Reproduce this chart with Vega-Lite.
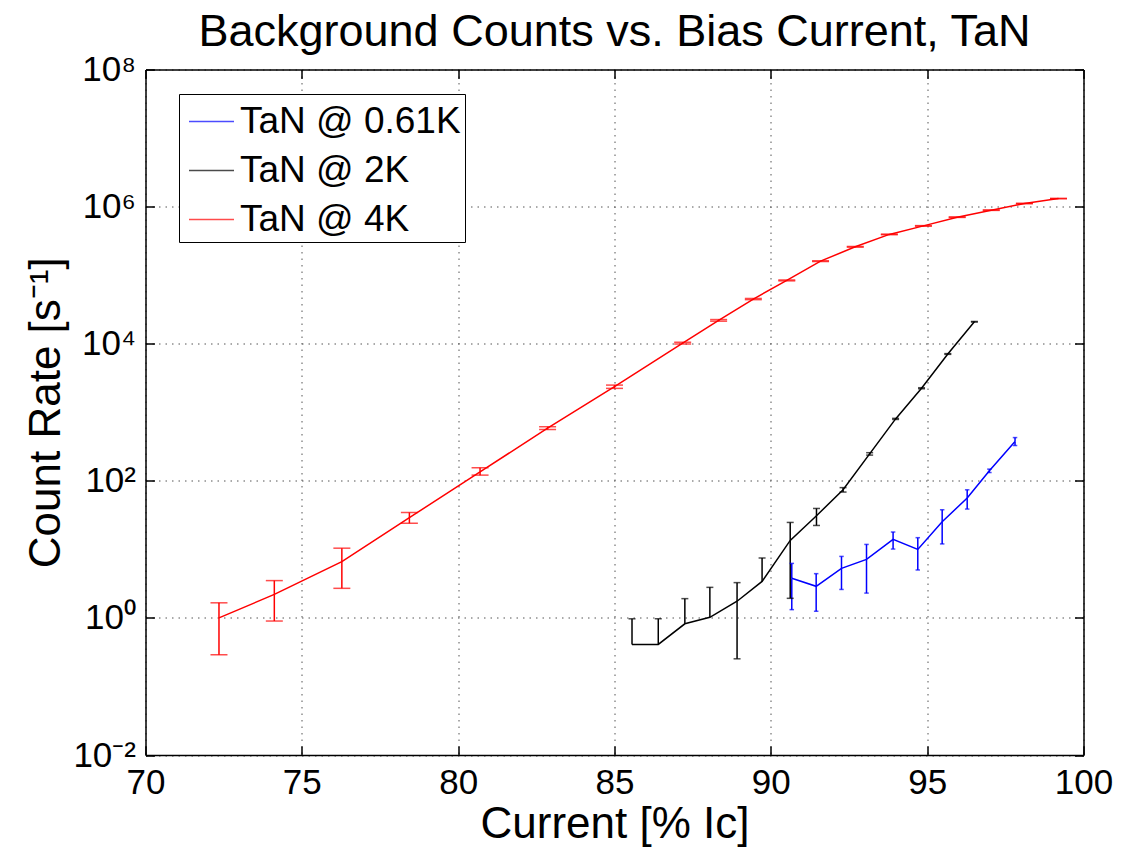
{
  "$schema": "https://vega.github.io/schema/vega-lite/v6.json",
  "autosize": {"type": "none"},
  "width": 938,
  "height": 685.5,
  "padding": {"left": 145.5, "top": 69.5, "right": 39.5, "bottom": 93},
  "background": "white",
  "config": {"view": {"stroke": null}},
  "title": {
    "text": "Background Counts vs. Bias Current, TaN",
    "font": "Liberation Sans",
    "fontSize": 45,
    "fontWeight": "normal",
    "color": "black",
    "anchor": "middle",
    "offset": -2
  },
  "data": {
    "values": [
      {"s": "TaN @ 4K", "x": 72.35, "y": 1.0, "lo": 0.29, "hi": 1.66},
      {"s": "TaN @ 4K", "x": 74.12, "y": 2.2, "lo": 0.9, "hi": 3.5},
      {"s": "TaN @ 4K", "x": 76.28, "y": 6.6, "lo": 2.7, "hi": 10.4},
      {"s": "TaN @ 4K", "x": 78.44, "y": 29, "lo": 24, "hi": 34.5},
      {"s": "TaN @ 4K", "x": 80.7, "y": 135, "lo": 121, "hi": 155},
      {"s": "TaN @ 4K", "x": 82.86, "y": 586, "lo": 560, "hi": 615},
      {"s": "TaN @ 4K", "x": 85.0, "y": 2360, "lo": 2230, "hi": 2490},
      {"s": "TaN @ 4K", "x": 87.18, "y": 10200, "lo": 9900, "hi": 10500},
      {"s": "TaN @ 4K", "x": 88.33, "y": 21900, "lo": 21300, "hi": 22500},
      {"s": "TaN @ 4K", "x": 89.44, "y": 44800, "lo": 43900, "hi": 45700},
      {"s": "TaN @ 4K", "x": 90.51, "y": 83800, "lo": 82500, "hi": 85100},
      {"s": "TaN @ 4K", "x": 91.59, "y": 160000, "lo": 158000, "hi": 162000},
      {"s": "TaN @ 4K", "x": 92.7, "y": 259000, "lo": 256000, "hi": 262000},
      {"s": "TaN @ 4K", "x": 93.79, "y": 393000, "lo": 389000, "hi": 397000},
      {"s": "TaN @ 4K", "x": 94.88, "y": 523000, "lo": 518000, "hi": 528000},
      {"s": "TaN @ 4K", "x": 95.96, "y": 701000, "lo": 695000, "hi": 707000},
      {"s": "TaN @ 4K", "x": 97.05, "y": 887000, "lo": 880000, "hi": 894000},
      {"s": "TaN @ 4K", "x": 98.11, "y": 1110000, "lo": 1100000, "hi": 1120000},
      {"s": "TaN @ 4K", "x": 99.2, "y": 1310000, "lo": 1300000, "hi": 1320000},

      {"s": "TaN @ 2K", "x": 85.56, "y": 0.41, "lo": null, "hi": 0.97},
      {"s": "TaN @ 2K", "x": 86.4, "y": 0.41, "lo": null, "hi": 0.97},
      {"s": "TaN @ 2K", "x": 87.25, "y": 0.82, "lo": null, "hi": 1.91},
      {"s": "TaN @ 2K", "x": 88.05, "y": 1.02, "lo": null, "hi": 2.79},
      {"s": "TaN @ 2K", "x": 88.92, "y": 1.75, "lo": 0.253, "hi": 3.27},
      {"s": "TaN @ 2K", "x": 89.72, "y": 3.41, "lo": null, "hi": 7.48},
      {"s": "TaN @ 2K", "x": 90.62, "y": 13.5, "lo": 1.93, "hi": 24.7},
      {"s": "TaN @ 2K", "x": 91.46, "y": 30.9, "lo": 22.3, "hi": 39.5},
      {"s": "TaN @ 2K", "x": 92.31, "y": 74, "lo": 68.5, "hi": 79.5},
      {"s": "TaN @ 2K", "x": 93.16, "y": 247, "lo": 237, "hi": 257},
      {"s": "TaN @ 2K", "x": 93.99, "y": 800, "lo": 785, "hi": 815},
      {"s": "TaN @ 2K", "x": 94.82, "y": 2240, "lo": 2200, "hi": 2280},
      {"s": "TaN @ 2K", "x": 95.66, "y": 7080, "lo": 6990, "hi": 7170},
      {"s": "TaN @ 2K", "x": 96.51, "y": 20900, "lo": 20700, "hi": 21100},

      {"s": "TaN @ 0.61K", "x": 90.67, "y": 3.78, "lo": 1.32, "hi": 6.24},
      {"s": "TaN @ 0.61K", "x": 91.45, "y": 2.89, "lo": 1.25, "hi": 4.42},
      {"s": "TaN @ 0.61K", "x": 92.26, "y": 5.28, "lo": 2.6, "hi": 7.89},
      {"s": "TaN @ 0.61K", "x": 93.06, "y": 7.14, "lo": 2.3, "hi": 11.8},
      {"s": "TaN @ 0.61K", "x": 93.91, "y": 13.96, "lo": 10.1, "hi": 17.9},
      {"s": "TaN @ 0.61K", "x": 94.7, "y": 9.98, "lo": 5.0, "hi": 14.8},
      {"s": "TaN @ 0.61K", "x": 95.48, "y": 25.3, "lo": 12, "hi": 37.8},
      {"s": "TaN @ 0.61K", "x": 96.28, "y": 56.0, "lo": 38.7, "hi": 73.9},
      {"s": "TaN @ 0.61K", "x": 96.99, "y": 140, "lo": 132, "hi": 148},
      {"s": "TaN @ 0.61K", "x": 97.81, "y": 374, "lo": 327, "hi": 427}
    ]
  },
  "encoding": {
    "color": {
      "field": "s",
      "type": "nominal",
      "scale": {
        "domain": ["TaN @ 0.61K", "TaN @ 2K", "TaN @ 4K"],
        "range": ["#0000ff", "#000000", "#ff0000"]
      },
      "legend": {
        "title": null,
        "orient": "none",
        "legendX": 33.5,
        "legendY": 24.5,
        "symbolType": "stroke",
        "symbolSize": 2025,
        "symbolStrokeWidth": 1.5,
        "symbolOffset": 5,
        "labelFont": "Liberation Sans",
        "labelFontSize": 37,
        "labelColor": "black",
        "labelOffset": 5,
        "labelLimit": 500,
        "rowPadding": 7,
        "padding": 4,
        "fillColor": "white",
        "strokeColor": "black"
      }
    }
  },
  "layer": [
    {
      "mark": {"type": "line", "strokeWidth": 1.5},
      "encoding": {
        "x": {
          "field": "x",
          "type": "quantitative",
          "scale": {"domain": [70, 100], "nice": false, "zero": false},
          "axis": {
            "orient": "bottom",
            "values": [70, 75, 80, 85, 90, 95, 100],
            "ticks": false,
            "grid": true,
            "gridColor": "#555555",
            "gridDash": [1.5, 5],
            "gridWidth": 1,
            "domain": true,
            "domainColor": "black",
            "domainWidth": 1.5,
            "labelFont": "Liberation Sans",
            "labelFontSize": 35,
            "labelColor": "black",
            "labelPadding": 10,
            "labelFlush": false,
            "labelOverlap": false,
            "title": "Current [% Ic]",
            "titleFont": "Liberation Sans",
            "titleFontSize": 44,
            "titleFontWeight": "normal",
            "titleColor": "black",
            "titlePadding": 2
          }
        },
        "y": {
          "field": "y",
          "type": "quantitative",
          "scale": {"type": "log", "domain": [0.01, 100000000], "nice": false},
          "axis": {
            "orient": "left",
            "values": [0.01, 1, 100, 10000, 1000000, 100000000],
            "labelExpr": "['10⁻²','10⁰','10²','10⁴','10⁶','10⁸'][round(log(datum.value)/LN10/2)+1]",
            "ticks": false,
            "grid": true,
            "gridColor": "#555555",
            "gridDash": [1.5, 5],
            "gridWidth": 1,
            "domain": true,
            "domainColor": "black",
            "domainWidth": 1.5,
            "labelFont": "Liberation Sans",
            "labelFontSize": 35,
            "labelColor": "black",
            "labelPadding": 10,
            "labelFlush": false,
            "labelOverlap": false,
            "title": "Count Rate [s⁻¹]",
            "titleFont": "Liberation Sans",
            "titleFontSize": 44,
            "titleFontWeight": "normal",
            "titleColor": "black",
            "titlePadding": 4
          }
        }
      }
    },
    {
      "mark": {"type": "rule", "strokeWidth": 1.5},
      "encoding": {
        "x": {
          "field": "x",
          "type": "quantitative",
          "axis": {
            "orient": "bottom",
            "values": [70, 75, 80, 85, 90, 95, 100],
            "labels": false,
            "grid": false,
            "domain": false,
            "ticks": true,
            "tickSize": -9,
            "tickColor": "black",
            "tickWidth": 1.5,
            "title": null
          }
        },
        "y": {
          "field": "y",
          "type": "quantitative",
          "axis": {
            "orient": "left",
            "values": [0.01, 1, 100, 10000, 1000000, 100000000],
            "labels": false,
            "grid": false,
            "domain": false,
            "ticks": true,
            "tickSize": -9,
            "tickColor": "black",
            "tickWidth": 1.5,
            "title": null
          }
        },
        "y2": {"field": "hi"}
      }
    },
    {
      "mark": {"type": "rule", "strokeWidth": 1.5},
      "encoding": {
        "x": {
          "field": "x",
          "type": "quantitative",
          "axis": {
            "orient": "top",
            "values": [70, 75, 80, 85, 90, 95, 100],
            "labels": false,
            "grid": false,
            "domain": true,
            "domainColor": "black",
            "domainWidth": 1.5,
            "ticks": true,
            "tickSize": -9,
            "tickColor": "black",
            "tickWidth": 1.5,
            "title": null
          }
        },
        "y": {
          "field": "lo",
          "type": "quantitative",
          "axis": {
            "orient": "right",
            "values": [0.01, 1, 100, 10000, 1000000, 100000000],
            "labels": false,
            "grid": false,
            "domain": true,
            "domainColor": "black",
            "domainWidth": 1.5,
            "ticks": true,
            "tickSize": -9,
            "tickColor": "black",
            "tickWidth": 1.5,
            "title": null
          }
        },
        "y2": {"field": "y"}
      }
    },
    {
      "transform": [
        {"fold": ["hi", "lo"], "as": ["end", "v"]},
        {"filter": "datum.s === 'TaN @ 4K'"}
      ],
      "mark": {"type": "tick", "orient": "horizontal", "thickness": 1.5, "size": 17},
      "encoding": {
        "x": {"field": "x", "type": "quantitative", "axis": null},
        "y": {"field": "v", "type": "quantitative", "axis": null}
      }
    },
    {
      "transform": [
        {"fold": ["hi", "lo"], "as": ["end", "v"]},
        {"filter": "datum.s === 'TaN @ 2K'"}
      ],
      "mark": {"type": "tick", "orient": "horizontal", "thickness": 1.5, "size": 7},
      "encoding": {
        "x": {"field": "x", "type": "quantitative", "axis": null},
        "y": {"field": "v", "type": "quantitative", "axis": null}
      }
    },
    {
      "transform": [
        {"fold": ["hi", "lo"], "as": ["end", "v"]},
        {"filter": "datum.s === 'TaN @ 0.61K'"}
      ],
      "mark": {"type": "tick", "orient": "horizontal", "thickness": 1.5, "size": 4.5},
      "encoding": {
        "x": {"field": "x", "type": "quantitative", "axis": null},
        "y": {"field": "v", "type": "quantitative", "axis": null}
      }
    }
  ],
  "resolve": {"axis": {"x": "independent", "y": "independent"}}
}
